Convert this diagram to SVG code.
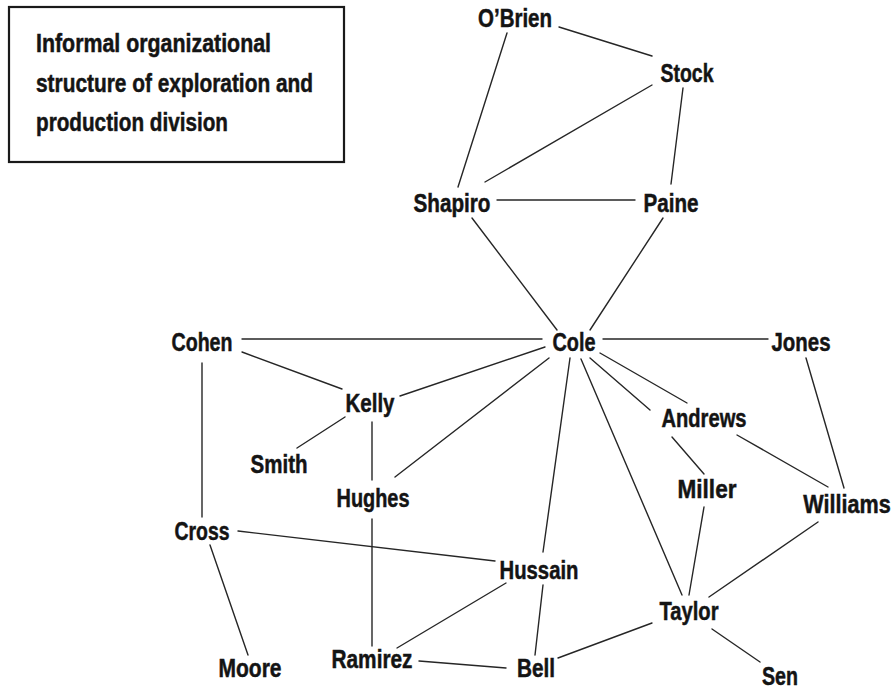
<svg xmlns="http://www.w3.org/2000/svg" width="896" height="691" viewBox="0 0 896 691">
<style>
.lbl{font-family:"Liberation Sans","DejaVu Sans",Arial,sans-serif;font-weight:bold;font-size:26px;fill:#141414;stroke:#141414;stroke-width:0.5;text-anchor:middle}
.ttl{font-family:"Liberation Sans","DejaVu Sans",Arial,sans-serif;font-weight:bold;font-size:26px;fill:#141414;stroke:#141414;stroke-width:0.5}
#edges line{stroke:#262626;stroke-width:1.4;stroke-linecap:round}
</style>
<rect width="896" height="691" fill="#ffffff"/>
<g id="title">
<rect x="9" y="7" width="335" height="155" fill="none" stroke="#1a1a1a" stroke-width="2.2"/>
<text class="ttl" x="36" y="52" textLength="235" lengthAdjust="spacingAndGlyphs">Informal organizational</text>
<text class="ttl" x="36" y="92" textLength="277" lengthAdjust="spacingAndGlyphs">structure of exploration and</text>
<text class="ttl" x="36" y="131" textLength="192" lengthAdjust="spacingAndGlyphs">production division</text>
</g>
<g id="edges">
<line x1="559" y1="27" x2="652" y2="56"/>
<line x1="507" y1="33" x2="458" y2="187"/>
<line x1="652" y1="85" x2="485" y2="182"/>
<line x1="683" y1="88" x2="671" y2="184"/>
<line x1="497" y1="200" x2="635" y2="200"/>
<line x1="472" y1="218" x2="557" y2="330"/>
<line x1="663" y1="218" x2="590" y2="330"/>
<line x1="242" y1="339" x2="542" y2="339"/>
<line x1="242" y1="352" x2="342" y2="389"/>
<line x1="400" y1="396" x2="545" y2="347"/>
<line x1="345" y1="417" x2="297" y2="448"/>
<line x1="372" y1="422" x2="372" y2="480"/>
<line x1="395" y1="477" x2="549" y2="358"/>
<line x1="202" y1="363" x2="202" y2="517"/>
<line x1="603" y1="339" x2="768" y2="339"/>
<line x1="570" y1="358" x2="543" y2="552"/>
<line x1="581" y1="359" x2="682" y2="595"/>
<line x1="590" y1="358" x2="650" y2="410"/>
<line x1="600" y1="353" x2="687" y2="403"/>
<line x1="672" y1="437" x2="704" y2="474"/>
<line x1="737" y1="435" x2="828" y2="487"/>
<line x1="806" y1="358" x2="844" y2="488"/>
<line x1="704" y1="507" x2="689" y2="595"/>
<line x1="818" y1="522" x2="709" y2="597"/>
<line x1="238" y1="531" x2="495" y2="561"/>
<line x1="210" y1="545" x2="248" y2="655"/>
<line x1="372" y1="519" x2="372" y2="646"/>
<line x1="397" y1="648" x2="506" y2="583"/>
<line x1="419" y1="661" x2="506" y2="668"/>
<line x1="543" y1="585" x2="535" y2="655"/>
<line x1="558" y1="658" x2="652" y2="623"/>
<line x1="712" y1="629" x2="760" y2="662"/>
</g>
<g id="obrien"><text class="lbl" x="515" y="27" textLength="74" lengthAdjust="spacingAndGlyphs">O’Brien</text></g>
<g id="stock"><text class="lbl" x="687" y="82" textLength="53" lengthAdjust="spacingAndGlyphs">Stock</text></g>
<g id="shapiro"><text class="lbl" x="452" y="212" textLength="77" lengthAdjust="spacingAndGlyphs">Shapiro</text></g>
<g id="paine"><text class="lbl" x="671" y="212" textLength="55" lengthAdjust="spacingAndGlyphs">Paine</text></g>
<g id="cohen"><text class="lbl" x="202" y="351" textLength="61" lengthAdjust="spacingAndGlyphs">Cohen</text></g>
<g id="cole"><text class="lbl" x="574" y="351" textLength="43" lengthAdjust="spacingAndGlyphs">Cole</text></g>
<g id="jones"><text class="lbl" x="801" y="351" textLength="59" lengthAdjust="spacingAndGlyphs">Jones</text></g>
<g id="kelly"><text class="lbl" x="370" y="412" textLength="49" lengthAdjust="spacingAndGlyphs">Kelly</text></g>
<g id="andrews"><text class="lbl" x="704" y="427" textLength="85" lengthAdjust="spacingAndGlyphs">Andrews</text></g>
<g id="smith"><text class="lbl" x="279" y="473" textLength="57" lengthAdjust="spacingAndGlyphs">Smith</text></g>
<g id="hughes"><text class="lbl" x="373" y="507" textLength="73" lengthAdjust="spacingAndGlyphs">Hughes</text></g>
<g id="miller"><text class="lbl" x="707" y="498" textLength="59" lengthAdjust="spacingAndGlyphs">Miller</text></g>
<g id="williams"><text class="lbl" transform="translate(847,513) scale(0.83,1)" x="0" y="0">Williams</text></g>
<g id="cross"><text class="lbl" x="202" y="540" textLength="55" lengthAdjust="spacingAndGlyphs">Cross</text></g>
<g id="hussain"><text class="lbl" x="539" y="579" textLength="79" lengthAdjust="spacingAndGlyphs">Hussain</text></g>
<g id="taylor"><text class="lbl" x="689" y="620" textLength="59" lengthAdjust="spacingAndGlyphs">Taylor</text></g>
<g id="ramirez"><text class="lbl" x="372" y="668" textLength="81" lengthAdjust="spacingAndGlyphs">Ramirez</text></g>
<g id="moore"><text class="lbl" x="250" y="677" textLength="63" lengthAdjust="spacingAndGlyphs">Moore</text></g>
<g id="bell"><text class="lbl" x="536" y="677" textLength="38" lengthAdjust="spacingAndGlyphs">Bell</text></g>
<g id="sen"><text class="lbl" x="780" y="685" textLength="36" lengthAdjust="spacingAndGlyphs">Sen</text></g>
</svg>
